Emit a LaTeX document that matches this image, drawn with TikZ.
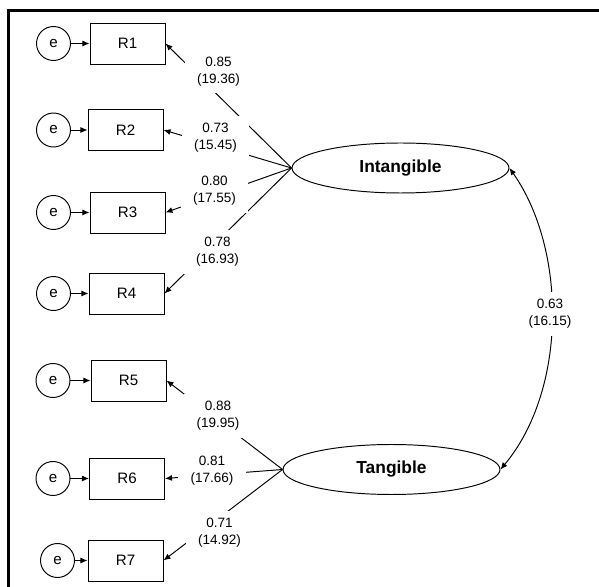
\documentclass[tikz,border=0pt]{standalone}
\usepackage{fontspec}
\setmainfont{Liberation Sans}
\usetikzlibrary{shapes,arrows.meta}
\tikzset{indic/.style={draw, minimum width=1.5cm, minimum height=0.82cm,
         inner sep=0pt, font=\fontsize{8.6}{10}\selectfont},
         err/.style={draw, circle, minimum size=0.68cm, inner sep=0pt,
         font=\fontsize{8.6}{10}\selectfont},
         latent/.style={draw, ellipse, minimum width=4.34cm, minimum height=1cm,
         inner sep=0pt, font=\bfseries\fontsize{9.9}{12}\selectfont},
         est/.style={fill=white, align=center, inner xsep=7pt, inner ysep=4pt,
         font=\fontsize{7.7}{9.8}\selectfont}}
\begin{document}
\begin{tikzpicture}[x=0.02cm, y=-0.02cm, line width=0.55pt,
    >={Latex[length=4pt,width=3.4pt]}]
    \useasboundingbox (0,0) rectangle (599,587);
    \draw[line width=1.6pt] (8.5,587) -- (8.5,10.5) -- (599,10.5);

    \node[indic] (r1) at (127.5,43.5) {R1};
    \node[indic] (r2) at (125.5,130) {R2};
    \node[indic] (r3) at (127.5,212.5) {R3};
    \node[indic] (r4) at (126.5,293.5) {R4};
    \node[indic] (r5) at (128.5,380.5) {R5};
    \node[indic] (r6) at (127,478.5) {R6};
    \node[indic] (r7) at (125.5,560.5) {R7};
    \foreach \r/\x in {r1/53.5, r2/53.5, r3/53.5, r4/53.5, r5/53, r6/53, r7/57.5} {
      \node[err] (e\r) at (\x,0 |- \r) {e};
      \draw[->] (e\r) -- (\r);
    }

    \node[latent] (intang) at (400.5,168) {Intangible};
    \node[latent] (tang) at (391.5,469.5) {Tangible};

    % loadings
    \draw[->] (intang.west) -- (r1.east);
    \draw[->] (intang.west) -- (r2.east);
    \draw[->] (intang.west) -- (r3.east);
    \draw[->] (intang.west) -- (r4.east);
    \draw[->] (tang.west) -- (r5.east);
    \draw[->] (tang.west) -- (r6.east);
    \draw[->] (tang.west) -- (r7.east);
    \node[est] (l1) at (218.5,71.5) {0.85\\(19.36)};
    \node[est] (l2) at (215.5,138) {0.73\\(15.45)};
    \node[est] (l3) at (214.5,191) {0.80\\(17.55)};
    \node[est] (l4) at (217.5,252) {0.78\\(16.93)};
    \node[est] (l5) at (218,416) {0.88\\(19.95)};
    \node[est] (l6) at (212,470.5) {0.81\\(17.66)};
    \node[est] (l7) at (219.5,533) {0.71\\(14.92)};

    % correlation
    \draw[<->] (intang.east) .. controls (567,250) and (567,390) .. (tang.east);
    \node[est] (cov) at (550,314) {0.63\\(16.15)};
\end{tikzpicture}
\end{document}
